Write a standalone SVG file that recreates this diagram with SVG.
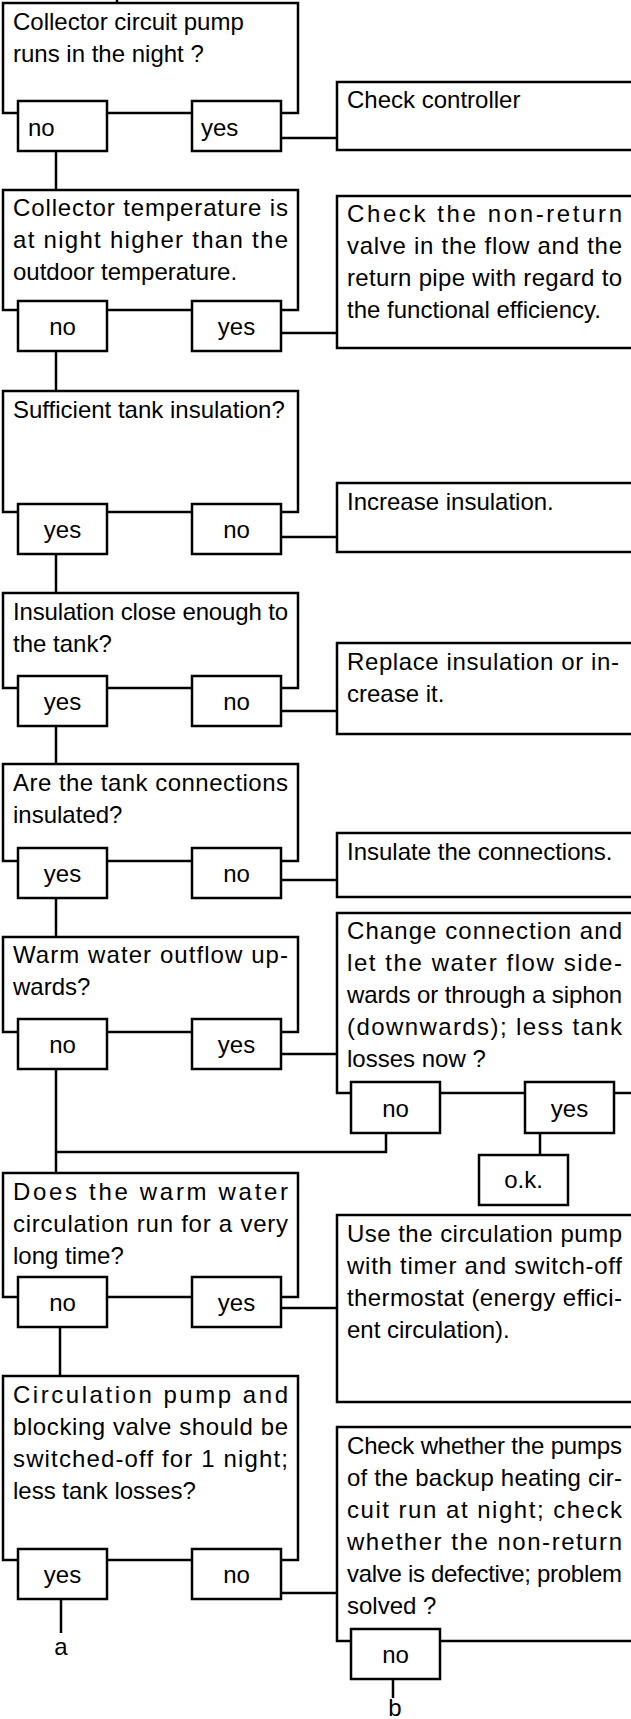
<svg xmlns="http://www.w3.org/2000/svg" width="631" height="1719" viewBox="0 0 631 1719">
<style>
.b{fill:#fff;stroke:#000;stroke-width:2.5}
.t{font-family:"Liberation Sans",Arial,sans-serif;font-size:24px;fill:#000}
.c{text-anchor:middle}
.ln{fill:none;stroke:#000;stroke-width:2.5}
</style>
<rect width="631" height="1719" fill="#fff"/>
<g id="connectors" class="ln">
<path d="M117,0V3"/>
<path d="M56,151V190"/>
<path d="M281,138H337"/>
<path d="M56,351V391"/>
<path d="M281,333H337"/>
<path d="M56,554V593"/>
<path d="M281,537H337"/>
<path d="M56,726V764"/>
<path d="M281,711H337"/>
<path d="M56,898V937"/>
<path d="M281,880H337"/>
<path d="M281,1054H337"/>
<path d="M56,1069V1173"/>
<path d="M386,1133V1152H56"/>
<path d="M540,1133V1155"/>
<path d="M60,1327V1376"/>
<path d="M281,1308H337"/>
<path d="M61,1599V1633"/>
<path d="M281,1593H337"/>
<path d="M393,1679V1698"/>
</g>
<g id="q1"><rect class="b" x="3" y="3" width="295" height="110"/>
<text class="t" x="13" y="30">Collector circuit pump</text>
<text class="t" x="13" y="62">runs in the night ?</text></g>
<g id="q1-no"><rect class="b" x="18" y="101" width="89" height="50"/><text class="t" x="28" y="136">no</text></g>
<g id="q1-yes"><rect class="b" x="192" y="101" width="89" height="50"/><text class="t" x="201" y="136">yes</text></g>
<g id="r1"><rect class="b" x="337" y="82" width="300" height="68"/>
<text class="t" x="347" y="108">Check controller</text></g>

<g id="q2"><rect class="b" x="3" y="190" width="295" height="120"/>
<text class="t" x="13" y="216" textLength="275" lengthAdjust="spacing">Collector temperature is</text>
<text class="t" x="13" y="248" textLength="275" lengthAdjust="spacing">at night higher than the</text>
<text class="t" x="13" y="280">outdoor temperature.</text></g>
<g id="q2-no"><rect class="b" x="18" y="301" width="89" height="50"/><text class="t c" x="62.5" y="335">no</text></g>
<g id="q2-yes"><rect class="b" x="192" y="301" width="89" height="50"/><text class="t c" x="236.5" y="335">yes</text></g>
<g id="r2"><rect class="b" x="337" y="196" width="300" height="152"/>
<text class="t" x="347" y="222" textLength="275" lengthAdjust="spacing">Check the non-return</text>
<text class="t" x="347" y="254" textLength="275" lengthAdjust="spacing">valve in the flow and the</text>
<text class="t" x="347" y="286" textLength="275" lengthAdjust="spacing">return pipe with regard to</text>
<text class="t" x="347" y="318">the functional efficiency.</text></g>

<g id="q3"><rect class="b" x="3" y="391" width="295" height="121"/>
<text class="t" x="13" y="418">Sufficient tank insulation?</text></g>
<g id="q3-yes"><rect class="b" x="18" y="504" width="89" height="50"/><text class="t c" x="62.5" y="538">yes</text></g>
<g id="q3-no"><rect class="b" x="192" y="504" width="89" height="50"/><text class="t c" x="236.5" y="538">no</text></g>
<g id="r3"><rect class="b" x="337" y="483" width="300" height="69"/>
<text class="t" x="347" y="510">Increase insulation.</text></g>

<g id="q4"><rect class="b" x="3" y="593" width="295" height="95"/>
<text class="t" x="13" y="620" textLength="275" lengthAdjust="spacing">Insulation close enough to</text>
<text class="t" x="13" y="652">the tank?</text></g>
<g id="q4-yes"><rect class="b" x="18" y="676" width="89" height="50"/><text class="t c" x="62.5" y="710">yes</text></g>
<g id="q4-no"><rect class="b" x="192" y="676" width="89" height="50"/><text class="t c" x="236.5" y="710">no</text></g>
<g id="r4"><rect class="b" x="337" y="643" width="300" height="91"/>
<text class="t" x="347" y="670" textLength="272" lengthAdjust="spacing">Replace insulation or in-</text>
<text class="t" x="347" y="702">crease it.</text></g>

<g id="q5"><rect class="b" x="3" y="764" width="295" height="97"/>
<text class="t" x="13" y="791" textLength="275" lengthAdjust="spacing">Are the tank connections</text>
<text class="t" x="13" y="823">insulated?</text></g>
<g id="q5-yes"><rect class="b" x="18" y="848" width="89" height="50"/><text class="t c" x="62.5" y="882">yes</text></g>
<g id="q5-no"><rect class="b" x="192" y="848" width="89" height="50"/><text class="t c" x="236.5" y="882">no</text></g>
<g id="r5"><rect class="b" x="337" y="833" width="300" height="64"/>
<text class="t" x="347" y="860">Insulate the connections.</text></g>

<g id="q6"><rect class="b" x="3" y="937" width="295" height="95"/>
<text class="t" x="13" y="963" textLength="275" lengthAdjust="spacing">Warm water outflow up-</text>
<text class="t" x="13" y="995">wards?</text></g>
<g id="q6-no"><rect class="b" x="18" y="1019" width="89" height="50"/><text class="t c" x="62.5" y="1053">no</text></g>
<g id="q6-yes"><rect class="b" x="192" y="1019" width="89" height="50"/><text class="t c" x="236.5" y="1053">yes</text></g>
<g id="r6"><rect class="b" x="337" y="913" width="300" height="180"/>
<text class="t" x="347" y="939" textLength="275" lengthAdjust="spacing">Change connection and</text>
<text class="t" x="347" y="971" textLength="275" lengthAdjust="spacing">let the water flow side-</text>
<text class="t" x="347" y="1003" textLength="275" lengthAdjust="spacing">wards or through a siphon</text>
<text class="t" x="347" y="1035" textLength="275" lengthAdjust="spacing">(downwards); less tank</text>
<text class="t" x="347" y="1067">losses now ?</text></g>
<g id="r6-no"><rect class="b" x="351" y="1082" width="89" height="51"/><text class="t c" x="395.5" y="1117">no</text></g>
<g id="r6-yes"><rect class="b" x="525" y="1082" width="89" height="51"/><text class="t c" x="569.5" y="1117">yes</text></g>
<g id="ok"><rect class="b" x="479" y="1155" width="89" height="50"/><text class="t c" x="523.5" y="1188">o.k.</text></g>

<g id="q7"><rect class="b" x="3" y="1173" width="295" height="124"/>
<text class="t" x="13" y="1200" textLength="275" lengthAdjust="spacing">Does the warm water</text>
<text class="t" x="13" y="1232" textLength="275" lengthAdjust="spacing">circulation run for a very</text>
<text class="t" x="13" y="1264">long time?</text></g>
<g id="q7-no"><rect class="b" x="18" y="1277" width="89" height="50"/><text class="t c" x="62.5" y="1311">no</text></g>
<g id="q7-yes"><rect class="b" x="192" y="1277" width="89" height="50"/><text class="t c" x="236.5" y="1311">yes</text></g>
<g id="r7"><rect class="b" x="337" y="1215" width="300" height="187"/>
<text class="t" x="347" y="1242" textLength="275" lengthAdjust="spacing">Use the circulation pump</text>
<text class="t" x="347" y="1274" textLength="275" lengthAdjust="spacing">with timer and switch-off</text>
<text class="t" x="347" y="1306" textLength="275" lengthAdjust="spacing">thermostat (energy effici-</text>
<text class="t" x="347" y="1338">ent circulation).</text></g>

<g id="q8"><rect class="b" x="3" y="1376" width="295" height="184"/>
<text class="t" x="13" y="1403" textLength="275" lengthAdjust="spacing">Circulation pump and</text>
<text class="t" x="13" y="1435" textLength="275" lengthAdjust="spacing">blocking valve should be</text>
<text class="t" x="13" y="1467" textLength="275" lengthAdjust="spacing">switched-off for 1 night;</text>
<text class="t" x="13" y="1499">less tank losses?</text></g>
<g id="q8-yes"><rect class="b" x="18" y="1549" width="89" height="50"/><text class="t c" x="62.5" y="1583">yes</text></g>
<g id="q8-no"><rect class="b" x="192" y="1549" width="89" height="50"/><text class="t c" x="236.5" y="1583">no</text></g>
<g id="r8"><rect class="b" x="337" y="1427" width="300" height="214"/>
<text class="t" x="347" y="1454" textLength="275" lengthAdjust="spacing">Check whether the pumps</text>
<text class="t" x="347" y="1486" textLength="275" lengthAdjust="spacing">of the backup heating cir-</text>
<text class="t" x="347" y="1518" textLength="275" lengthAdjust="spacing">cuit run at night; check</text>
<text class="t" x="347" y="1550" textLength="275" lengthAdjust="spacing">whether the non-return</text>
<text class="t" x="347" y="1582" textLength="275" lengthAdjust="spacing">valve is defective; problem</text>
<text class="t" x="347" y="1614">solved ?</text></g>
<g id="r8-no"><rect class="b" x="351" y="1629" width="89" height="50"/><text class="t c" x="395.5" y="1663">no</text></g>
<g id="labels">
<text class="t c" x="61" y="1655">a</text>
<text class="t c" x="395" y="1716">b</text>
</g>
</svg>
